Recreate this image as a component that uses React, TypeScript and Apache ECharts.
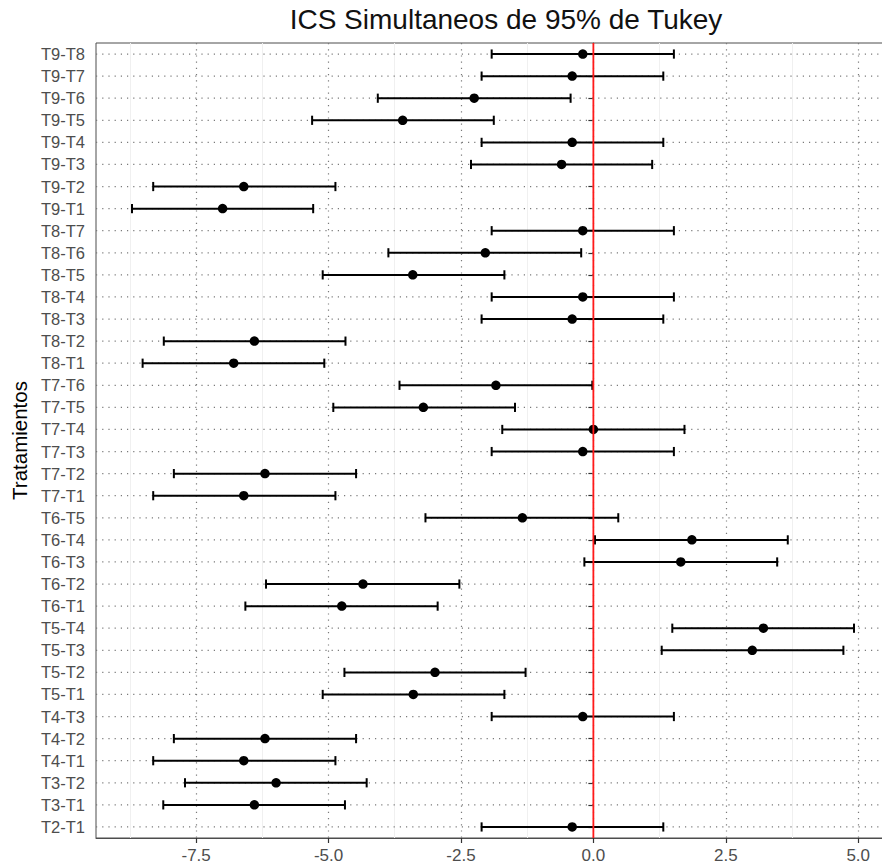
import React, { useEffect, useRef } from "react";
import * as echarts from "echarts";

const titleText = "ICS Simultaneos de 95% de Tukey";
const yAxisTitle = "Tratamientos";

// bottom (first) to top (last)
const categories = [
  "T2-T1",
  "T3-T1", "T3-T2",
  "T4-T1", "T4-T2", "T4-T3",
  "T5-T1", "T5-T2", "T5-T3", "T5-T4",
  "T6-T1", "T6-T2", "T6-T3", "T6-T4", "T6-T5",
  "T7-T1", "T7-T2", "T7-T3", "T7-T4", "T7-T5", "T7-T6",
  "T8-T1", "T8-T2", "T8-T3", "T8-T4", "T8-T5", "T8-T6", "T8-T7",
  "T9-T1", "T9-T2", "T9-T3", "T9-T4", "T9-T5", "T9-T6", "T9-T7", "T9-T8",
];

const diffValues = [
  -0.40,
  -6.40, -5.99,
  -6.60, -6.20, -0.20,
  -3.40, -2.99, 3.00, 3.21,
  -4.75, -4.35, 1.65, 1.86, -1.34,
  -6.60, -6.20, -0.20, 0.00, -3.21, -1.84,
  -6.79, -6.40, -0.40, -0.20, -3.41, -2.04, -0.20,
  -7.00, -6.60, -0.60, -0.40, -3.60, -2.25, -0.40, -0.20,
];

const lwrValues = [
  -2.11,
  -8.12, -7.71,
  -8.31, -7.92, -1.92,
  -5.11, -4.70, 1.29, 1.49,
  -6.57, -6.18, -0.17, 0.03, -3.17,
  -8.31, -7.92, -1.92, -1.72, -4.91, -3.66,
  -8.51, -8.11, -2.11, -1.92, -5.11, -3.87, -1.92,
  -8.71, -8.31, -2.31, -2.11, -5.31, -4.07, -2.11, -1.92,
];

const uprValues = [
  1.32,
  -4.69, -4.28,
  -4.87, -4.48, 1.52,
  -1.68, -1.28, 4.72, 4.92,
  -2.94, -2.53, 3.47, 3.67, 0.47,
  -4.87, -4.48, 1.52, 1.72, -1.48, -0.02,
  -5.08, -4.68, 1.32, 1.52, -1.68, -0.23, 1.52,
  -5.29, -4.87, 1.11, 1.32, -1.88, -0.43, 1.32, 1.52,
];

const xTicks = [-7.5, -5.0, -2.5, 0.0, 2.5, 5.0];
const xMinorTicks = [-8.75, -6.25, -3.75, -1.25, 1.25, 3.75];
const xMin = -9.39;
const xMax = 5.6;
const referenceValue = 0;

const FONT = "'Liberation Sans', Arial, Helvetica, sans-serif";

export default function App() {
  const ref = useRef<HTMLDivElement>(null);

  useEffect(() => {
    if (!ref.current) return;
    const chart = echarts.init(ref.current, null, { renderer: "svg" });

    const gridDash = [1.2, 5];
    const gridColor = "#7a7a7a";

    const option: any = {
      animation: false,
      backgroundColor: "#ffffff",
      textStyle: { fontFamily: FONT },
      graphic: [
        {
          type: "text",
          x: 506,
          y: 19,
          style: {
            text: titleText,
            fill: "#111",
            font: `28px ${FONT}`,
            textAlign: "center",
            textVerticalAlign: "middle",
          },
        },
      ],
      grid: {
        left: 96,
        width: 794,
        top: 43,
        bottom: 29,
        outerBoundsMode: "none",
        containLabel: false,
        show: true,
        borderColor: "#4d4d4d",
        borderWidth: 1,
        backgroundColor: "transparent",
      },
      xAxis: [
        {
          type: "value",
          min: xMin,
          max: xMax,
          axisLine: { show: true, lineStyle: { color: "#4d4d4d", width: 1 } },
          axisTick: {
            show: true,
            customValues: xTicks,
            length: 5,
            lineStyle: { color: "#333", width: 1.2 },
          },
          axisLabel: {
            customValues: xTicks,
            formatter: (v: number) => v.toFixed(1),
            color: "#4d4d4d",
            fontSize: 17,
            fontFamily: FONT,
            margin: 9,
          },
          splitLine: {
            show: true,
            lineStyle: { color: gridColor, width: 1.2, type: gridDash },
          },
        },
        {
          type: "value",
          position: "top",
          min: xMin,
          max: xMax,
          axisLine: { show: false },
          axisTick: { show: false, customValues: xMinorTicks },
          axisLabel: { show: false, customValues: xMinorTicks },
          splitLine: {
            show: true,
            lineStyle: { color: "#f0f0f0", width: 1 },
          },
        },
      ],
      yAxis: {
        type: "category",
        data: categories,
        name: yAxisTitle,
        nameLocation: "middle",
        nameGap: 58,
        nameTextStyle: { color: "#000", fontSize: 20.5, fontFamily: FONT },
        axisLine: { show: true, lineStyle: { color: "#4d4d4d", width: 1 } },
        axisTick: {
          show: true,
          alignWithLabel: true,
          length: 5,
          lineStyle: { color: "#333", width: 1.2 },
        },
        axisLabel: {
          color: "#4d4d4d",
          fontSize: 16.5,
          fontFamily: FONT,
          margin: 11,
          interval: 0,
        },
        splitLine: { show: false },
      },
      series: [
        {
          type: "custom",
          name: "hgrid",
          silent: true,
          z: 1,
          data: categories.map((c) => [0, c]),
          encode: { x: 0, y: 1 },
          renderItem: (params: any, api: any) => {
            const cs = params.coordSys;
            const p = api.coord([0, api.value(1)]);
            return {
              type: "line",
              shape: { x1: cs.x, y1: p[1], x2: cs.x + cs.width, y2: p[1] },
              style: { stroke: gridColor, lineWidth: 1.2, lineDash: gridDash },
            };
          },
        },
        {
          type: "custom",
          name: "ci",
          silent: true,
          z: 3,
          data: categories.map((c, i) => [c, lwrValues[i], uprValues[i]]),
          encode: { y: 0, x: [1, 2] },
          renderItem: (params: any, api: any) => {
            const yi = api.value(0);
            const a = api.coord([api.value(1), yi]);
            const b = api.coord([api.value(2), yi]);
            const h = 4.6;
            const st = { stroke: "#000", lineWidth: 2 };
            return {
              type: "group",
              children: [
                { type: "line", shape: { x1: a[0], y1: a[1], x2: b[0], y2: b[1] }, style: st },
                { type: "line", shape: { x1: a[0], y1: a[1] - h, x2: a[0], y2: a[1] + h }, style: st },
                { type: "line", shape: { x1: b[0], y1: b[1] - h, x2: b[0], y2: b[1] + h }, style: st },
              ],
            };
          },
        },
        {
          type: "scatter",
          name: "diff",
          silent: true,
          z: 4,
          symbol: "circle",
          symbolSize: 9.5,
          itemStyle: { color: "#000", opacity: 1 },
          data: categories.map((c, i) => [diffValues[i], c]),
        },
        {
          type: "custom",
          name: "zero",
          silent: true,
          z: 5,
          data: [[referenceValue, categories[0]]],
          encode: { x: 0, y: 1 },
          renderItem: (params: any, api: any) => {
            const cs = params.coordSys;
            const p = api.coord([api.value(0), api.value(1)]);
            return {
              type: "line",
              shape: { x1: p[0], y1: cs.y, x2: p[0], y2: cs.y + cs.height },
              style: { stroke: "#ff1a1a", lineWidth: 1.8 },
            };
          },
        },
      ],
    };

    chart.setOption(option);
    return () => chart.dispose();
  }, []);

  return (
    <div
      ref={ref}
      style={{ position: "absolute", left: 0, top: 0, width: 882, height: 867, background: "#fff" }}
    />
  );
}
